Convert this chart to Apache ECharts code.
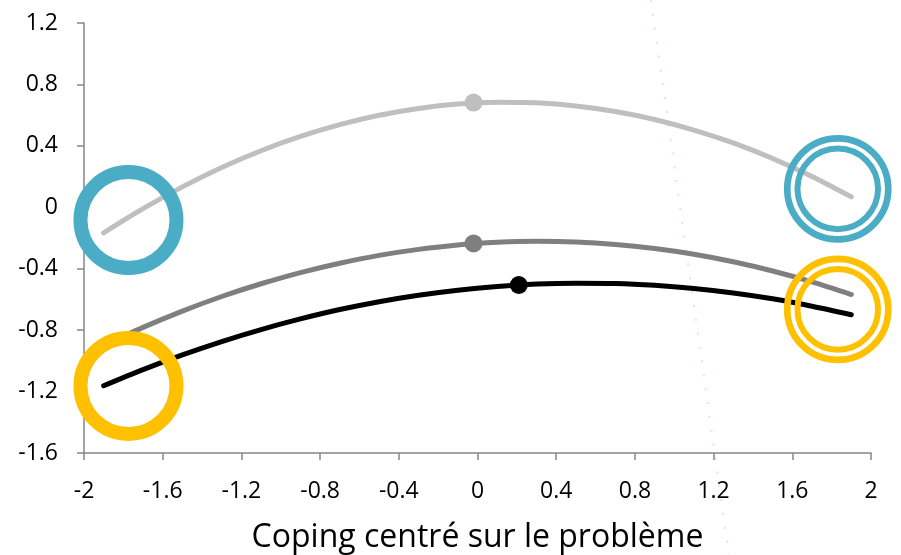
<!DOCTYPE html>
<html>
<head>
<meta charset="utf-8">
<script src="https://cdn.jsdelivr.net/npm/echarts@6/dist/echarts.min.js"></script>
<style>
  html, body { margin: 0; padding: 0; background: #ffffff; }
  #chart { width: 901px; height: 555px; }
</style>
</head>
<body>
<div id="chart"></div>
<script>
// ---- Data ----
const xTitle = 'Coping centré sur le problème';
const xPoints = [-1.9, -1.7, -1.5, -1.3, -1.1, -0.9, -0.7, -0.5, -0.3, -0.1,
                 0.1, 0.3, 0.5, 0.7, 0.9, 1.1, 1.3, 1.5, 1.7, 1.9];
const lightGrayValues = [-0.166, -0.009, 0.133, 0.259, 0.368, 0.461, 0.538, 0.599, 0.643, 0.672,
                         0.684, 0.680, 0.660, 0.624, 0.572, 0.503, 0.419, 0.318, 0.201, 0.068];
const midGrayValues   = [-0.899, -0.782, -0.676, -0.581, -0.498, -0.425, -0.364, -0.313, -0.274, -0.245,
                         -0.228, -0.221, -0.226, -0.242, -0.269, -0.306, -0.355, -0.415, -0.486, -0.568];
const blackValues     = [-1.162, -1.057, -0.961, -0.874, -0.796, -0.727, -0.666, -0.615, -0.573, -0.540,
                         -0.516, -0.500, -0.494, -0.496, -0.508, -0.529, -0.558, -0.596, -0.644, -0.700];
const lightGrayDot = [-0.02, 0.682];
const midGrayDot   = [-0.02, -0.235];
const blackDot     = [0.21, -0.506];
const blueLeftRing    = [-1.774, -0.083];
const yellowLeftRing  = [-1.774, -1.163];
const blueRightRing   = [1.831, 0.120];
const yellowRightRing = [1.831, -0.665];
const yTickMin = -1.6, yTickMax = 1.2, yTickStep = 0.4;
const xTickMin = -2, xTickMax = 2, xTickStep = 0.4;

const pairs = (xs, ys) => xs.map((x, i) => [x, ys[i]]);

const FONT = 'Open Sans';
const AXIS_COLOR = '#868686';
const BLUE = '#4BACC6';
const YELLOW = '#FFC000';

function curve(values, color) {
  return {
    type: 'line', data: pairs(xPoints, values), smooth: 0.3,
    showSymbol: false, silent: true, z: 2,
    lineStyle: { color: color, width: 5, cap: 'round', join: 'round' }
  };
}
function dot(pt, color) {
  return {
    type: 'scatter', data: [pt], symbol: 'circle', symbolSize: 18, silent: true, z: 3,
    itemStyle: { color: color, opacity: 1 }
  };
}
function ring(pt, color, size, width) {
  return {
    type: 'scatter', data: [pt], symbol: 'circle', symbolSize: size, silent: true, z: 4,
    itemStyle: { color: 'rgba(0,0,0,0)', borderColor: color, borderWidth: width, opacity: 1 }
  };
}

const chart = echarts.init(document.getElementById('chart'), null, { renderer: 'canvas' });
chart.setOption({
  animation: false,
  backgroundColor: '#ffffff',
  grid: { left: 84, right: 30, top: 23, bottom: 102, containLabel: false, outerBoundsMode: 'none' },
  xAxis: {
    type: 'value', min: xTickMin, max: xTickMax, interval: xTickStep,
    position: 'bottom',
    name: xTitle, nameLocation: 'middle', nameGap: 69,
    nameTextStyle: { fontFamily: FONT, fontSize: 32, color: '#000' },
    axisLine: { show: true, onZero: false, lineStyle: { color: AXIS_COLOR, width: 1.5 } },
    axisTick: { show: true, inside: false, length: 7, lineStyle: { color: AXIS_COLOR, width: 1.5 } },
    axisLabel: {
      fontFamily: FONT, fontSize: 23, color: '#000', margin: 27,
      formatter: v => String(Math.round(v * 10) / 10)
    },
    splitLine: { show: false }
  },
  yAxis: {
    type: 'value', min: yTickMin, max: yTickMax, interval: yTickStep,
    axisLine: { show: true, onZero: false, lineStyle: { color: AXIS_COLOR, width: 1.5 } },
    axisTick: { show: true, inside: false, length: 7, lineStyle: { color: AXIS_COLOR, width: 1.5 } },
    axisLabel: {
      fontFamily: FONT, fontSize: 23, color: '#000', margin: 26,
      formatter: v => String(Math.round(v * 10) / 10)
    },
    splitLine: { show: false }
  },
  graphic: [{
    type: 'line', silent: true, z: -10,
    shape: { x1: 651, y1: 0, x2: 729, y2: 555 },
    style: { stroke: '#f2c4b8', lineWidth: 2, lineDash: [2, 12], opacity: 0.6 }
  }],
  series: [
    curve(lightGrayValues, '#BFBFBF'),
    curve(midGrayValues, '#7F7F7F'),
    curve(blackValues, '#000000'),
    dot(lightGrayDot, '#BFBFBF'),
    dot(midGrayDot, '#7F7F7F'),
    dot(blackDot, '#000000'),
    ring(blueLeftRing, BLUE, 96, 14),
    ring(yellowLeftRing, YELLOW, 96, 14),
    ring(blueRightRing, BLUE, 101, 6.7),
    ring(blueRightRing, BLUE, 80.6, 6),
    ring(yellowRightRing, YELLOW, 101, 6.7),
    ring(yellowRightRing, YELLOW, 80.6, 6)
  ]
});
</script>
</body>
</html>
